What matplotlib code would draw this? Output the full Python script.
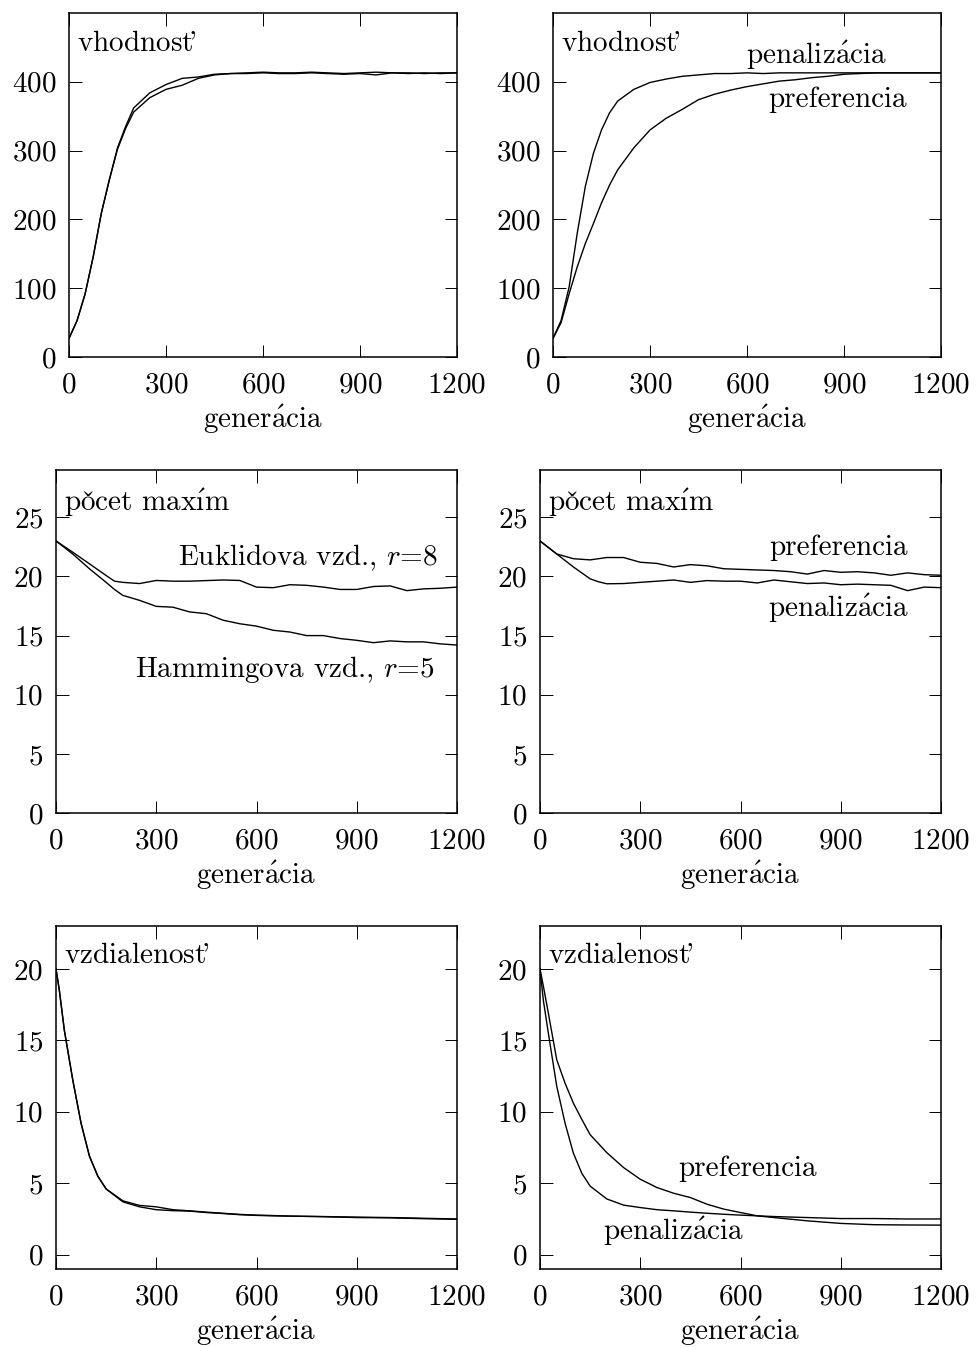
import numpy as np
import matplotlib.pyplot as plt

plt.rcParams['font.family'] = ['cmr10', 'DejaVu Serif']
plt.rcParams['mathtext.fontset'] = 'cm'
plt.rcParams['axes.formatter.use_mathtext'] = True

# cmr10 nema predkomponovane znaky s diakritikou -> akcenty cez mathtext
DOTLESS_I = chr(0xB3)   # bezbodkove i v kodovani cmr10
A_ACUTE = r'$\mathrm{\acute{a}}$'
I_ACUTE = r'$\mathrm{\acute{' + DOTLESS_I + '}}$'
T_CARON = r't$\!$' + "'"
GEN_LABEL = 'gener' + A_ACUTE + 'cia'
PEN_LABEL = 'penaliz' + A_ACUTE + 'cia'
PREF_LABEL = 'preferencia'
FIT_LABEL = 'vhodnos' + T_CARON
MAX_LABEL = r'po$\mathrm{\check{c}}$et max' + I_ACUTE + 'm'
DIST_LABEL = 'vzdialenos' + T_CARON

# vhodnost, dva behy (lavy graf)
gen_fit = [0, 25, 50, 75, 100, 125, 150, 175, 200, 250, 300, 350, 400, 450, 500,
           550, 600, 650, 700, 750, 800, 850, 900, 950, 1000, 1050, 1100, 1150, 1200]
fit_a = [27, 53, 92, 146, 209, 258, 304, 335, 362, 384, 396, 405, 407, 411, 412,
         413, 414, 413, 413, 414, 413, 412, 413, 414, 413, 412, 413, 412, 413]
fit_b = [27, 53, 92, 146, 209, 258, 302, 332, 356, 377, 389, 395, 405, 410, 412,
         412, 413, 412, 412, 413, 412, 411, 412, 410, 413, 413, 412, 413, 413]

# vhodnost: penalizacia vs. preferencia
fit_pen = [27, 53, 102, 180, 248, 296, 330, 355, 372, 389, 399, 404, 408, 410, 412,
           412, 413, 412, 413, 413, 413, 413, 413, 413, 413, 413, 413, 413, 413]
fit_pref = [27, 50, 92, 131, 165, 194, 224, 250, 272, 304, 330, 347, 360, 374, 382,
            388, 393, 397, 401, 403, 406, 408, 411, 412, 413, 413, 413, 413, 413]

# pocet maxim
gen_max = [0, 50, 100, 150, 175, 200, 250, 300, 350, 400, 450, 500, 550, 600, 650,
           700, 750, 800, 850, 900, 950, 1000, 1050, 1100, 1150, 1200]
max_eukl = [23.0, 22.05, 21.07, 20.08, 19.6, 19.5, 19.4, 19.66, 19.6, 19.6, 19.65, 19.7,
            19.66, 19.1, 19.05, 19.3, 19.25, 19.1, 18.9, 18.9, 19.15, 19.2, 18.8, 18.95,
            19.0, 19.1]
max_hamm = [23.0, 21.9, 20.65, 19.5, 18.9, 18.4, 17.98, 17.47, 17.4, 17.0, 16.85, 16.3,
            16.0, 15.8, 15.45, 15.3, 15.0, 15.0, 14.75, 14.6, 14.4, 14.55, 14.47, 14.47,
            14.3, 14.2]
max_pref = [23.0, 21.9, 21.5, 21.4, 21.5, 21.6, 21.6, 21.2, 21.1, 20.8, 21.0, 20.9,
            20.65, 20.6, 20.55, 20.5, 20.4, 20.2, 20.5, 20.35, 20.4, 20.3, 20.1, 20.3,
            20.15, 20.1]
max_pen = [23.0, 21.9, 20.8, 19.8, 19.55, 19.38, 19.4, 19.5, 19.6, 19.7, 19.5, 19.65,
           19.6, 19.6, 19.45, 19.7, 19.55, 19.4, 19.45, 19.3, 19.35, 19.3, 19.25, 18.8,
           19.1, 19.05]

# vzdialenost
gen_dist = [0, 10, 25, 50, 75, 100, 125, 150, 200, 250, 300, 350, 400, 450, 500, 550,
            600, 650, 700, 800, 900, 1000, 1100, 1200]
dist_a = [20.0, 18.5, 15.7, 12.25, 9.2, 6.9, 5.5, 4.6, 3.77, 3.45, 3.35, 3.15, 3.07,
          2.98, 2.9, 2.82, 2.77, 2.74, 2.7, 2.67, 2.63, 2.6, 2.55, 2.5]
dist_b = [20.0, 18.5, 15.7, 12.25, 9.2, 6.9, 5.5, 4.6, 3.7, 3.35, 3.15, 3.08, 3.05,
          2.95, 2.88, 2.8, 2.75, 2.72, 2.7, 2.66, 2.6, 2.58, 2.52, 2.48]
dist_pen = [20.0, 17.8, 15.5, 11.8, 9.2, 7.1, 5.7, 4.8, 3.9, 3.47, 3.3, 3.15, 3.07,
            2.98, 2.9, 2.83, 2.77, 2.72, 2.67, 2.6, 2.53, 2.53, 2.5, 2.5]
dist_pref = [20.0, 18.8, 16.9, 13.65, 12.0, 10.6, 9.47, 8.4, 7.14, 6.1, 5.28, 4.7, 4.3,
             4.0, 3.53, 3.19, 2.95, 2.72, 2.6, 2.37, 2.19, 2.1, 2.08, 2.07]

W, H = 978, 1348
FS = 21
fig = plt.figure(figsize=(W / 100, H / 100), dpi=100)


def panel(left, top, right, bottom, ylim, yticks, title):
    ax = fig.add_axes([left / W, 1 - bottom / H, (right - left) / W, (bottom - top) / H])
    ax.set_xlim(0, 1200)
    ax.set_ylim(*ylim)
    ax.set_xticks([0, 300, 600, 900, 1200])
    ax.set_yticks(yticks)
    ax.tick_params(direction='in', length=9, width=0.7, labelsize=FS,
                   top=True, right=True)
    ax.tick_params(axis='y', pad=9)
    ax.tick_params(axis='x', pad=11)
    for s in ax.spines.values():
        s.set_linewidth(1.1)
    ax.set_xlabel(GEN_LABEL, fontsize=FS, labelpad=3)
    ax.text(0.02, 0.95, title, transform=ax.transAxes, fontsize=FS,
            ha='left', va='top')
    return ax


kw = dict(color='black', lw=1.0)

ax = panel(69, 13, 457, 357, (0, 500), [0, 100, 200, 300, 400], FIT_LABEL)
ax.plot(gen_fit, fit_a, **kw)
ax.plot(gen_fit, fit_b, **kw)

ax = panel(553, 13, 941, 357, (0, 500), [0, 100, 200, 300, 400], FIT_LABEL)
ax.plot(gen_fit, fit_pen, **kw)
ax.plot(gen_fit, fit_pref, **kw)
ax.text(816, 439, PEN_LABEL, fontsize=FS, ha='center', va='center')
ax.text(881, 374, PREF_LABEL, fontsize=FS, ha='center', va='center')

ax = panel(56, 470, 457, 813, (0, 29), [0, 5, 10, 15, 20, 25], MAX_LABEL)
ax.plot(gen_max, max_eukl, **kw)
ax.plot(gen_max, max_hamm, **kw)
ax.text(1143, 21.6, 'Euklidova vzd., $r$=8', fontsize=FS, ha='right', va='center')
ax.text(1134, 12.1, 'Hammingova vzd., $r$=5', fontsize=FS, ha='right', va='center')

ax = panel(540, 470, 941, 813, (0, 29), [0, 5, 10, 15, 20, 25], MAX_LABEL)
ax.plot(gen_max, max_pref, **kw)
ax.plot(gen_max, max_pen, **kw)
ax.text(892, 22.4, PREF_LABEL, fontsize=FS, ha='center', va='center')
ax.text(892, 17.3, PEN_LABEL, fontsize=FS, ha='center', va='center')

ax = panel(56, 926, 457, 1269, (-1, 23), [0, 5, 10, 15, 20], DIST_LABEL)
ax.plot(gen_dist, dist_a, **kw)
ax.plot(gen_dist, dist_b, **kw)

ax = panel(540, 926, 941, 1269, (-1, 23), [0, 5, 10, 15, 20], DIST_LABEL)
ax.plot(gen_dist, dist_pen, **kw)
ax.plot(gen_dist, dist_pref, **kw)
ax.text(622, 6.0, PREF_LABEL, fontsize=FS, ha='center', va='center')
ax.text(398, 1.66, PEN_LABEL, fontsize=FS, ha='center', va='center')

fig.savefig('out.png', dpi=100)
